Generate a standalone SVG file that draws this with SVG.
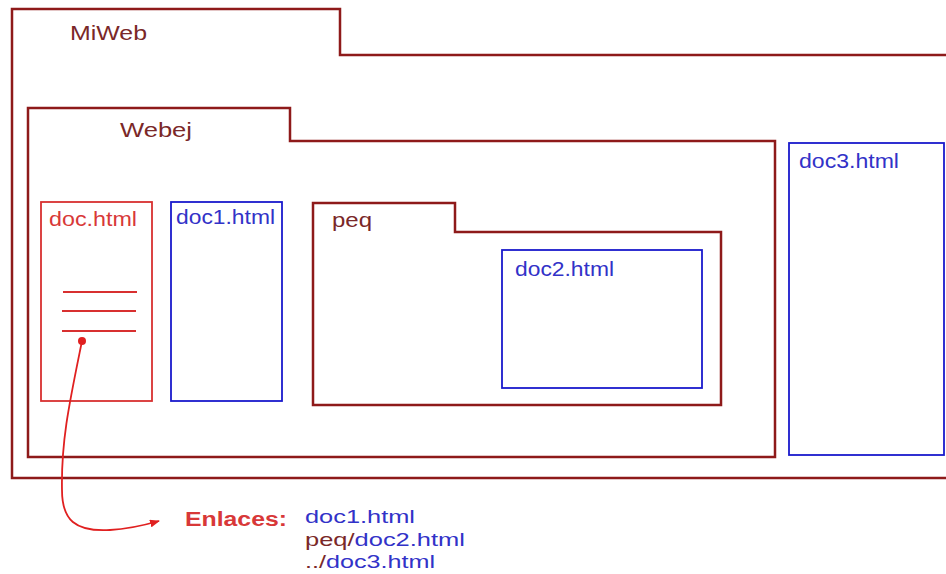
<svg xmlns="http://www.w3.org/2000/svg" width="946" height="574" viewBox="0 0 946 574">
<defs>
<style>
.folder{fill:none;stroke:#8e1a1a;stroke-width:2.5}
.red{fill:none;stroke:#d83030;stroke-width:1.8}
.blue{fill:none;stroke:#1a1acc;stroke-width:1.8}
.t{font-family:"Liberation Sans",Arial,sans-serif;font-size:20px}
.s{font-size:19px}
.ft{fill:#7a2828}
.bt{fill:#3232c8}
.rt{fill:#d83838}
</style>
<marker id="ah" markerWidth="10" markerHeight="8" refX="9" refY="4" orient="auto" markerUnits="userSpaceOnUse">
<path d="M0,0 L10,4 L0,8 Z" fill="#e02020"/>
</marker>
</defs>
<rect width="946" height="574" fill="#ffffff"/>
<g id="miweb">
<path class="folder" d="M948,55 H340 V9 H12 V478 H948"/>
<text class="t ft" x="70" y="40" textLength="77" lengthAdjust="spacingAndGlyphs">MiWeb</text>
</g>
<g id="webej">
<path class="folder" d="M775,141 H290 V108 H28 V457 H775 Z"/>
<text class="t ft" x="120" y="137" textLength="72" lengthAdjust="spacingAndGlyphs">Webej</text>
</g>
<g id="doc">
<rect class="red" x="41" y="202" width="111" height="199"/>
<line class="red" x1="63" y1="292" x2="137" y2="292"/>
<line class="red" x1="62" y1="311" x2="136" y2="311"/>
<line class="red" x1="62" y1="331" x2="136" y2="331"/>
<text class="t rt" x="49" y="226" textLength="88" lengthAdjust="spacingAndGlyphs">doc.html</text>
</g>
<g id="doc1">
<rect class="blue" x="171" y="202" width="111" height="199"/>
<text class="t bt" x="176" y="224" textLength="99" lengthAdjust="spacingAndGlyphs">doc1.html</text>
</g>
<g id="peq">
<path class="folder" d="M721,232 H455 V203 H313 V405 H721 Z"/>
<text class="t ft" x="332" y="227" textLength="40" lengthAdjust="spacingAndGlyphs">peq</text>
</g>
<g id="doc2">
<rect class="blue" x="502" y="250" width="200" height="138"/>
<text class="t bt" x="515" y="276" textLength="99" lengthAdjust="spacingAndGlyphs">doc2.html</text>
</g>
<g id="doc3">
<rect class="blue" x="789" y="143" width="155" height="312"/>
<text class="t bt" x="799" y="168" textLength="100" lengthAdjust="spacingAndGlyphs">doc3.html</text>
</g>
<g id="connectors">
<circle cx="82" cy="341" r="4" fill="#e02020"/>
<path d="M82,341 C70,400 61,440 62,490 C62,520 75,532 110,530 C130,529 145,525 159,521" fill="none" stroke="#e02020" stroke-width="1.8" marker-end="url(#ah)"/>
</g>
<g id="links">
<text class="t rt" x="185" y="526" font-size="20" font-weight="bold" textLength="102" lengthAdjust="spacingAndGlyphs">Enlaces:</text>
<text class="t s bt" x="305" y="523" textLength="110" lengthAdjust="spacingAndGlyphs">doc1.html</text>
<text class="t s" x="305" y="546" textLength="160" lengthAdjust="spacingAndGlyphs"><tspan class="ft">peq/</tspan><tspan class="bt">doc2.html</tspan></text>
<text class="t s" x="305" y="568" textLength="130" lengthAdjust="spacingAndGlyphs"><tspan class="ft">../</tspan><tspan class="bt">doc3.html</tspan></text>
</g>
</svg>
